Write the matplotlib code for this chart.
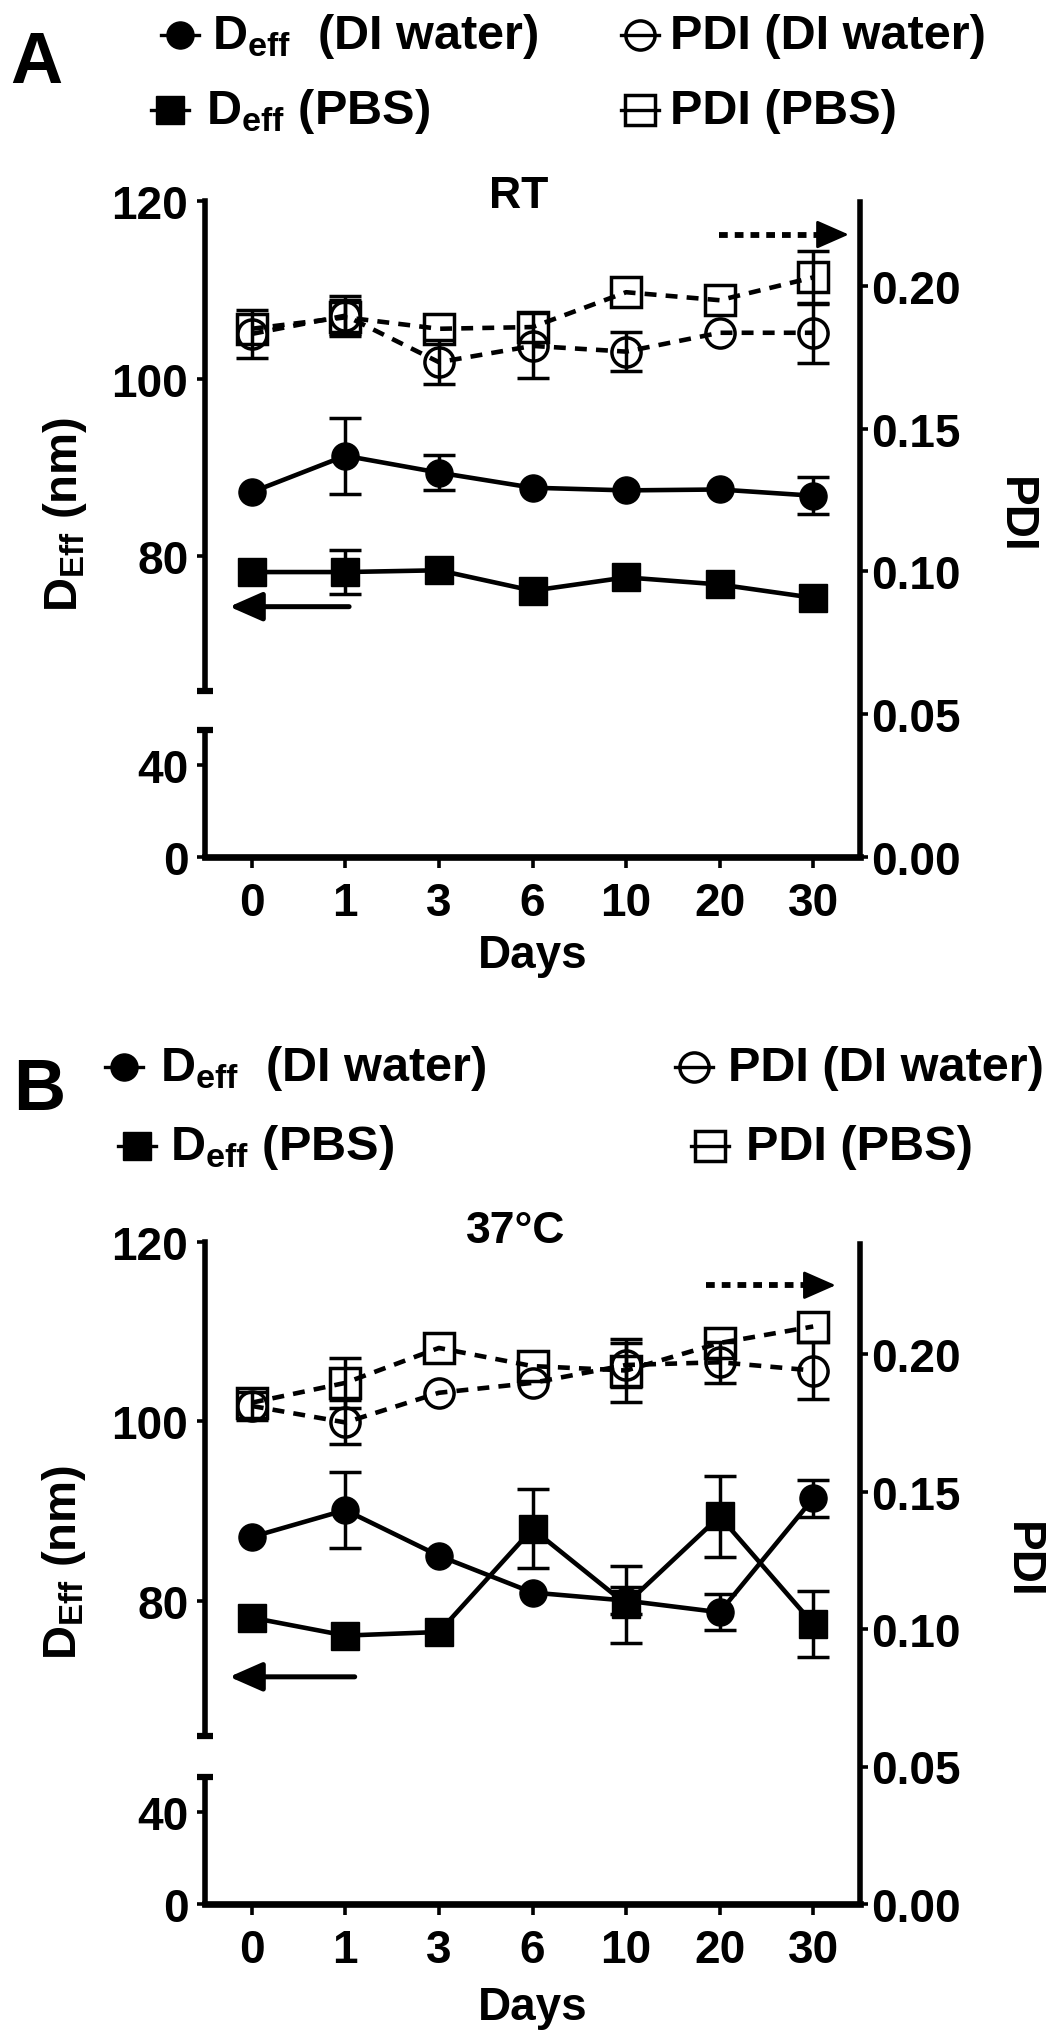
import matplotlib
matplotlib.use('Agg')
import matplotlib.pyplot as plt
import numpy as np
from matplotlib.lines import Line2D

plt.rcParams['font.family'] = ['Liberation Sans', 'DejaVu Sans']
plt.rcParams['font.weight'] = 'bold'
plt.rcParams['mathtext.fontset'] = 'custom'
plt.rcParams['mathtext.rm'] = 'Liberation Sans:bold'
plt.rcParams['mathtext.it'] = 'Liberation Sans:bold'
plt.rcParams['mathtext.bf'] = 'Liberation Sans:bold'

# ---------------- data ----------------
days = ['0', '1', '3', '6', '10', '20', '30']

# Panel A (RT)
deff_di_rt = [87.2, 91.3, 89.4, 87.7, 87.4, 87.5, 86.8]
deff_di_rt_err = [0, 4.3, 2.0, 0, 0, 0, 2.1]
deff_pbs_rt = [78.2, 78.2, 78.4, 76.1, 77.6, 76.8, 75.3]
deff_pbs_rt_err = [0, 2.5, 0, 0, 0, 0, 0]
pdi_di_rt = [0.1832, 0.1896, 0.1733, 0.179, 0.177, 0.1836, 0.1836]
pdi_di_rt_err = [0.0085, 0.007, 0.0076, 0.0114, 0.0067, 0, 0.0106]
pdi_pbs_rt = [0.185, 0.189, 0.185, 0.1856, 0.1978, 0.195, 0.203]
pdi_pbs_rt_err = [0, 0.006, 0, 0, 0, 0, 0.0092]

# Panel B (37 C)
deff_di_37 = [87.1, 90.1, 85.0, 80.9, 80.0, 78.7, 91.4]
deff_di_37_err = [0, 4.2, 0, 0, 1.5, 2.0, 2.1]
deff_pbs_37 = [78.1, 76.1, 76.5, 88.0, 79.6, 89.4, 77.4]
deff_pbs_37_err = [0, 0, 0, 4.4, 4.3, 4.5, 3.7]
pdi_di_37 = [0.1811, 0.1751, 0.1859, 0.1895, 0.196, 0.197, 0.194]
pdi_di_37_err = [0.005, 0.008, 0, 0, 0.008, 0.0075, 0.0105]
pdi_pbs_37 = [0.1823, 0.1895, 0.2022, 0.1956, 0.194, 0.204, 0.210]
pdi_pbs_37_err = [0, 0.009, 0, 0, 0.0115, 0, 0]

legend_labels = [r'$\mathrm{D_{eff}}$  (DI water)', r'$\mathrm{D_{eff}}$ (PBS)',
                 'PDI (DI water)', 'PDI (PBS)']

# ---------------- styling ----------------
W, H = 1051, 2040
fig = plt.figure(figsize=(W / 100, H / 100), dpi=100)

LW = 3.3
MS = 19.5
MS_OPEN = 21
ERR_LW = 2.5
CAP = 11.5
SPINE = 4.0
TICKFS = 33
DASH = (0, (2.6, 2.0))
ARROW = '-|>,head_length=0.5,head_width=0.22'


def box(x0, x1, ytop, ybot):
    return [x0 / W, 1 - ybot / H, (x1 - x0) / W, (ybot - ytop) / H]


def series(ax, y, err, marker, filled, ls):
    x = np.arange(len(y))
    y = np.asarray(y, float)
    e = np.asarray(err, float)
    m = e > 0
    if m.any():
        ax.errorbar(x[m], y[m], yerr=e[m], fmt='none', ecolor='black',
                    elinewidth=ERR_LW, capsize=CAP, capthick=ERR_LW, zorder=2)
    ax.plot(x, y, linestyle=ls, color='black', lw=LW,
            marker=marker, ms=MS if filled else MS_OPEN,
            mfc='black' if filled else 'none', mec='black',
            mew=1 if filled else 2.5, zorder=3, clip_on=False)


def panel(cfg):
    # right PDI axis with x axis
    ax_r = fig.add_axes(box(205, 860, cfg['top_r'], cfg['bot']))
    ax_r.patch.set_visible(False)
    ax_r.set_xlim(-0.5, 6.5)
    ax_r.set_ylim(0, cfg['pdi_top'])
    for s in ['left', 'top']:
        ax_r.spines[s].set_visible(False)
    ax_r.spines['right'].set_linewidth(SPINE)
    ax_r.spines['bottom'].set_linewidth(4.8)
    ax_r.yaxis.tick_right()
    ax_r.set_yticks([0, 0.05, 0.10, 0.15, 0.20])
    ax_r.set_yticklabels(['0.00', '0.05', '0.10', '0.15', '0.20'])
    ax_r.set_xticks(range(len(days)))
    ax_r.set_xticklabels(days)
    ax_r.tick_params(axis='y', direction='out', length=6, width=2.6,
                     labelsize=TICKFS, pad=2)
    ax_r.tick_params(axis='x', direction='out', length=8, width=2.6,
                     labelsize=TICKFS, pad=9)

    # upper left axis
    ax_u = fig.add_axes(box(205, 860, cfg['top_u'], cfg['bot_u']))
    ax_u.patch.set_visible(False)
    ax_u.set_xlim(-0.5, 6.5)
    ax_u.set_ylim(cfg['u_lo'], 120)
    for s in ['right', 'top', 'bottom']:
        ax_u.spines[s].set_visible(False)
    ax_u.spines['left'].set_linewidth(SPINE)
    ax_u.set_xticks([])
    ax_u.set_yticks([80, 100, 120])
    ax_u.tick_params(axis='y', direction='out', length=6, width=2.6,
                     labelsize=TICKFS, pad=6)

    # lower left axis
    ax_l = fig.add_axes(box(205, 860, cfg['top_l'], cfg['bot']))
    ax_l.patch.set_visible(False)
    ax_l.set_xlim(-0.5, 6.5)
    ax_l.set_ylim(0, cfg['l_hi'])
    for s in ['right', 'top', 'bottom']:
        ax_l.spines[s].set_visible(False)
    ax_l.spines['left'].set_linewidth(SPINE)
    ax_l.set_xticks([])
    ax_l.set_yticks([0, 40])
    ax_l.tick_params(axis='y', direction='out', length=6, width=2.6,
                     labelsize=TICKFS, pad=6)

    # break caps
    ax_u.plot([0], [0], marker='_', ms=11, mew=4.5, color='black',
              transform=ax_u.transAxes, clip_on=False)
    ax_l.plot([0], [1], marker='_', ms=11, mew=4.5, color='black',
              transform=ax_l.transAxes, clip_on=False)

    # data
    series(ax_r, cfg['pdi_pbs'], cfg['pdi_pbs_err'], 's', False, DASH)
    series(ax_r, cfg['pdi_di'], cfg['pdi_di_err'], 'o', False, DASH)
    series(ax_u, cfg['deff_pbs'], cfg['deff_pbs_err'], 's', True, '-')
    series(ax_u, cfg['deff_di'], cfg['deff_di_err'], 'o', True, '-')

    # arrows
    ax_u.annotate('', xy=(-0.24, cfg['arrow_l_y']), xytext=(cfg['arrow_l_x0'], cfg['arrow_l_y']),
                  arrowprops=dict(arrowstyle=ARROW, lw=3.6, color='black',
                                  mutation_scale=40, shrinkA=0, shrinkB=0))
    # dotted shaft + solid head
    ax_r.plot([cfg['arrow_r_x0'], cfg['arrow_r_x1'] - 0.2], [cfg['arrow_r_y']] * 2,
              color='black', lw=4.2, linestyle=(0, (1.5, 1.2)), solid_capstyle='butt')
    ax_r.annotate('', xy=(cfg['arrow_r_x1'], cfg['arrow_r_y']),
                  xytext=(cfg['arrow_r_x1'] - 0.25, cfg['arrow_r_y']),
                  arrowprops=dict(arrowstyle=ARROW, lw=2.0, color='black',
                                  mutation_scale=40, shrinkA=0, shrinkB=0))

    # texts
    fig.text(cfg['title_x'] / W, 1 - cfg['title_y'] / H, cfg['title'],
             ha='center', va='baseline', fontsize=32, fontweight='bold')
    fig.text(533 / W, 1 - cfg['days_y'] / H, 'Days', ha='center', va='baseline',
             fontsize=33, fontweight='bold')
    fig.text(cfg['ylab_x'] / W, 1 - cfg['ylab_y'] / H, r'$\mathrm{D_{Eff}}$ (nm)',
             rotation=90, ha='center', va='center', fontsize=34, fontweight='bold')
    fig.text(cfg['pdi_x'] / W, 1 - cfg['pdi_y'] / H, 'PDI', rotation=-90,
             ha='center', va='center', fontsize=33, fontweight='bold')
    fig.text(cfg['letter_x'] / W, 1 - cfg['letter_y'] / H, cfg['letter'],
             ha='left', va='baseline', fontsize=52, fontweight='bold')

    # legend
    styles = [('o', True), ('s', True), ('o', False), ('s', False)]
    for (mx, ty, tx), lab, (mk, filled) in zip(cfg['legend'], legend_labels, styles):
        xs = np.array([mx - 19, mx, mx + 19]) / W
        ys = np.full(3, 1 - (ty - 13) / H)
        fig.add_artist(Line2D(xs, ys, transform=fig.transFigure, color='black', lw=2.4,
                              marker=mk, markevery=[1],
                              ms=MS if filled else MS_OPEN,
                              mfc='black' if filled else 'none', mec='black',
                              mew=1 if filled else 2.5))
        fig.text(tx / W, 1 - ty / H, lab, ha='left', va='baseline', fontsize=35,
                 fontweight='bold')


panel(dict(
    top_r=203, bot=858, pdi_top=0.2294, top_u=202, bot_u=692, u_lo=64.8,
    top_l=731, l_hi=55.3,
    deff_di=deff_di_rt, deff_di_err=deff_di_rt_err,
    deff_pbs=deff_pbs_rt, deff_pbs_err=deff_pbs_rt_err,
    pdi_di=pdi_di_rt, pdi_di_err=pdi_di_rt_err,
    pdi_pbs=pdi_pbs_rt, pdi_pbs_err=pdi_pbs_rt_err,
    arrow_l_y=74.3, arrow_l_x0=1.04, arrow_r_y=0.218, arrow_r_x0=4.99, arrow_r_x1=6.38,
    title='RT', title_x=519, title_y=208, days_y=968,
    ylab_x=65, ylab_y=514, pdi_x=1015, pdi_y=515,
    letter='A', letter_x=10, letter_y=83,
    legend=[(180, 49, 212), (170, 124, 206), (640, 49, 670), (640, 124, 670)],
))

panel(dict(
    top_r=1245, bot=1905, pdi_top=0.24, top_u=1243, bot_u=1737, u_lo=64.9,
    top_l=1778, l_hi=55.3,
    deff_di=deff_di_37, deff_di_err=deff_di_37_err,
    deff_pbs=deff_pbs_37, deff_pbs_err=deff_pbs_37_err,
    pdi_di=pdi_di_37, pdi_di_err=pdi_di_37_err,
    pdi_pbs=pdi_pbs_37, pdi_pbs_err=pdi_pbs_37_err,
    arrow_l_y=71.5, arrow_l_x0=1.1, arrow_r_y=0.225, arrow_r_x0=4.85, arrow_r_x1=6.24,
    title='37°C', title_x=516, title_y=1243, days_y=2020,
    ylab_x=64, ylab_y=1562, pdi_x=1022, pdi_y=1560,
    letter='B', letter_x=13, letter_y=1110,
    legend=[(124, 1081, 160), (137, 1160, 170), (694, 1081, 728), (710, 1160, 746)],
))

fig.savefig('out.png', dpi=100)
